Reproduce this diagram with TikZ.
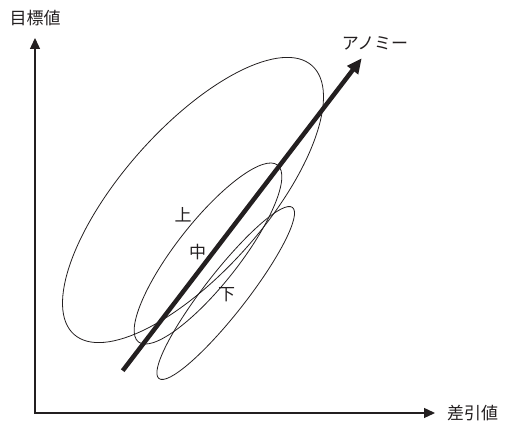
\documentclass[tikz,border=0pt]{standalone}
\usepackage{fontspec}
\setmainfont{Noto Sans CJK JP}
\usetikzlibrary{arrows.meta,positioning}
\definecolor{ink}{HTML}{231F20}
\begin{document}
\begin{tikzpicture}
      [x=1pt, y=1pt, node distance=10pt,
       axis/.style={draw=ink, line width=1.3pt},
       blob/.style={draw=ink, line width=0.8pt},
       trend/.style={draw=ink, line width=4.5pt, -{Triangle[length=15pt,width=13pt]}},
       lbl/.style={inner sep=0pt, text=ink, font=\fontsize{17}{20}\selectfont}]
      \useasboundingbox (0,0) rectangle (505,422);

      % axes
      \coordinate (o) at (35,9);
      \coordinate (ytip) at (35,384);
      \coordinate (xtip) at (435,9);
      \draw[axis, {Triangle[length=11pt,width=10pt]}-{Triangle[length=11pt,width=10pt]}]
         (ytip) -- (o) -- (xtip);
      \node[lbl, above=12pt of ytip] (ylab) {目標値};
      \node[lbl, right=12pt of xtip] (xlab) {差引値};

      % groups
      \coordinate (up) at (193,222);
      \coordinate (mi) at (208,168.5);
      \coordinate (dn) at (225.7,129);
      \draw[blob, rotate around={48.5:(up)}] (up) ellipse [x radius=179.5, y radius=71.6];
      \draw[blob, rotate around={51.8:(mi)}] (mi) ellipse [x radius=112.5, y radius=31.4];
      \draw[blob, rotate around={52:(dn)}] (dn) ellipse [x radius=108.5, y radius=21];
      \node[lbl] (ul) at (183,207) {上};
      \node[lbl] (ml) at (197.7,170.3) {中};
      \node[lbl] (dl) at (226.7,127) {下};

      % anomie arrow
      \coordinate (s) at (122.7,51.3);
      \coordinate (t) at (361.7,363.7);
      \draw[trend] (s) -- (t);
      \node[lbl] (al) at (375,379) {アノミー};
   \end{tikzpicture}
\end{document}
